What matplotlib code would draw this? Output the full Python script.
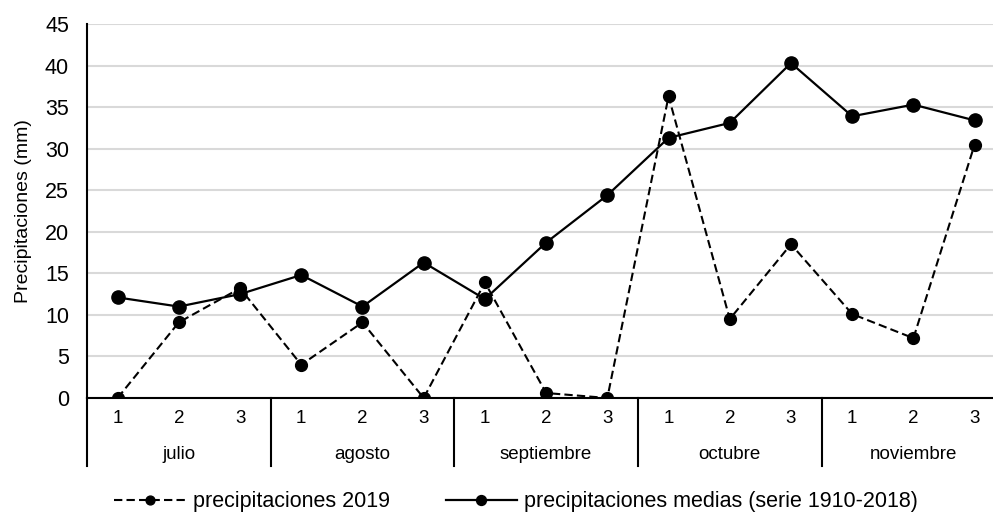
import matplotlib
matplotlib.use("Agg")
import matplotlib.pyplot as plt
import matplotlib.transforms as mtransforms

plt.rcParams['font.family'] = ['Liberation Sans', 'DejaVu Sans']

# datos (decenas de cada mes)
meses = ['julio', 'agosto', 'septiembre', 'octubre', 'noviembre']
decenas = ['1', '2', '3']
prec_2019 = [0.0, 9.1, 13.2, 4.0, 9.1, 0.0, 13.9, 0.6, 0.0,
             36.3, 9.5, 18.5, 10.1, 7.2, 30.5]
prec_medias = [12.1, 11.0, 12.5, 14.8, 11.0, 16.3, 11.9, 18.7, 24.4,
               31.3, 33.1, 40.3, 33.9, 35.3, 33.4]

x = list(range(len(prec_2019)))

fig = plt.figure(figsize=(9.93, 5.12), dpi=100)
ax = fig.add_axes([87 / 993, 114 / 512, 906 / 993, 374 / 512])

l1, = ax.plot(x, prec_2019, color='black', lw=1.5, ls=(0, (4, 2)),
              marker='o', markersize=8.5, label='precipitaciones 2019', zorder=3)
l2, = ax.plot(x, prec_medias, color='black', lw=1.6, ls='-',
              marker='o', markersize=9.5,
              label='precipitaciones medias (serie 1910-2018)', zorder=3)

ax.set_xlim(-0.5, 14.3)
ax.set_ylim(0, 45)
ax.set_yticks(range(0, 46, 5))
ax.tick_params(axis='y', length=0, labelsize=15.5, pad=13)
ax.set_xticks([])
ax.grid(axis='y', color='#d9d9d9', lw=1.5)
ax.set_axisbelow(True)
for s in ['top', 'right']:
    ax.spines[s].set_visible(False)
ax.spines['left'].set_linewidth(1.5)
ax.spines['bottom'].set_linewidth(1.5)
ax.set_ylabel('Precipitaciones (mm)', fontsize=14, labelpad=9)

# eje x de dos niveles
trans = mtransforms.blended_transform_factory(ax.transData, ax.transAxes)
for i, xi in enumerate(x):
    ax.text(xi, -0.056, decenas[i % 3], transform=trans, ha='center',
            va='center', fontsize=13.5)
for m, mes in enumerate(meses):
    ax.text(3 * m + 1, -0.152, mes, transform=trans, ha='center',
            va='center', fontsize=13.5)
for sep in [-0.5, 2.5, 5.5, 8.5, 11.5]:
    ax.plot([sep, sep], [0, -0.182], transform=trans, color='black',
            lw=1.5, clip_on=False)

fig.legend(handles=[l1, l2], loc='center', bbox_to_anchor=(0.52, 0.02),
           ncol=2, frameon=False, fontsize=15.5, handlelength=3.3,
           columnspacing=2.6, handletextpad=0.35, markerscale=0.75)

fig.savefig('out.png', dpi=100)
